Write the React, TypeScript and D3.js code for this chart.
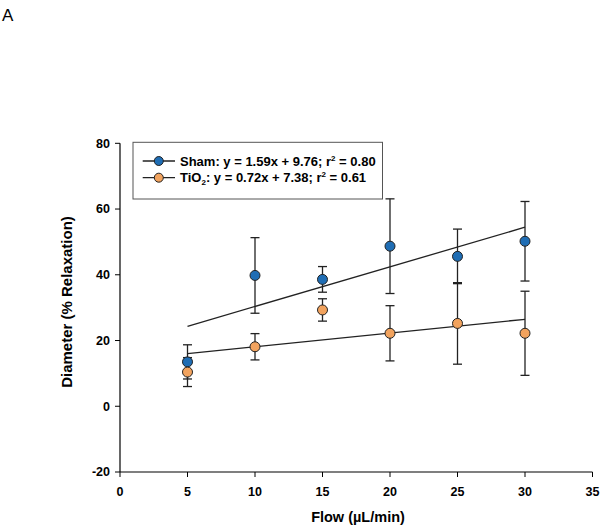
import React from "react";
import * as d3 from "d3";

const flows = [5, 10, 15, 20, 25, 30];
const shamMean = [13.5, 39.8, 38.6, 48.7, 45.6, 50.2];
const shamErr = [5.2, 11.5, 3.9, 14.4, 8.3, 12.1];
const tioMean = [10.4, 18.1, 29.3, 22.2, 25.2, 22.2];
const tioErr = [4.4, 4.0, 3.4, 8.4, 12.4, 12.8];
const xTicks = [0, 5, 10, 15, 20, 25, 30, 35];
const yTicks = [-20, 0, 20, 40, 60, 80];

const BLUE = "#1f6db4";
const ORANGE = "#f2a35e";

function fit(xs: number[], ys: number[]) {
  const mx = d3.mean(xs)!;
  const my = d3.mean(ys)!;
  let sxy = 0, sxx = 0;
  xs.forEach((x, i) => { sxy += (x - mx) * (ys[i] - my); sxx += (x - mx) * (x - mx); });
  const b = sxy / sxx;
  return (x: number) => my + b * (x - mx);
}

export default function App() {
  const x = d3.scaleLinear().domain([0, 35]).range([120, 592.5]);
  const y = d3.scaleLinear().domain([-20, 80]).range([472, 143.3]);
  const font = "'Liberation Sans', Arial, sans-serif";
  const series = [
    { mean: shamMean, err: shamErr, color: BLUE },
    { mean: tioMean, err: tioErr, color: ORANGE },
  ];
  return (
    <svg width={601} height={531} style={{ position: "absolute", left: 0, top: 0, background: "#fff" }} fontFamily={font}>
      <rect width={601} height={531} fill="#fff" />
      <text x={2} y={21} fontSize={17} fill="#000">A</text>
      {/* axes */}
      <line x1={x(0)} x2={x(0)} y1={y(-20)} y2={y(80)} stroke="#000" strokeWidth={1.2} />
      <line x1={x(0)} x2={x(35)} y1={y(-20)} y2={y(-20)} stroke="#000" strokeWidth={1.2} />
      {yTicks.map((t) => (
        <g key={"y" + t}>
          <line x1={x(0) - 5} x2={x(0)} y1={y(t)} y2={y(t)} stroke="#000" />
          <text x={110} y={y(t)} dy="0.35em" textAnchor="end" fontSize={12.5} fontWeight="bold">{t}</text>
        </g>
      ))}
      {xTicks.map((t) => (
        <g key={"x" + t}>
          <line x1={x(t)} x2={x(t)} y1={y(-20)} y2={y(-20) + 5} stroke="#000" />
          <text x={x(t)} y={492} dy="0.35em" textAnchor="middle" fontSize={12.5} fontWeight="bold">{t}</text>
        </g>
      ))}
      <text x={358} y={517} dy="0.35em" textAnchor="middle" fontSize={14.5} fontWeight="bold">Flow (µL/min)</text>
      <text transform="translate(67,302) rotate(-90)" dy="0.35em" textAnchor="middle" fontSize={15} fontWeight="bold">Diameter (% Relaxation)</text>
      {/* regression lines */}
      {series.map((s, i) => {
        const f = fit(flows, s.mean);
        return <line key={"r" + i} x1={x(5)} x2={x(30)} y1={y(f(5))} y2={y(f(30))} stroke="#222" strokeWidth={1.3} />;
      })}
      {/* error bars */}
      {series.map((s, i) => (
        <g key={"e" + i} stroke="#222" strokeWidth={1.3}>
          {flows.map((f, j) => (
            <g key={j}>
              <line x1={x(f)} x2={x(f)} y1={y(s.mean[j] - s.err[j])} y2={y(s.mean[j] + s.err[j])} />
              <line x1={x(f) - 4.5} x2={x(f) + 4.5} y1={y(s.mean[j] - s.err[j])} y2={y(s.mean[j] - s.err[j])} />
              <line x1={x(f) - 4.5} x2={x(f) + 4.5} y1={y(s.mean[j] + s.err[j])} y2={y(s.mean[j] + s.err[j])} />
            </g>
          ))}
        </g>
      ))}
      {series.map((s, i) => (
        <g key={"p" + i}>
          {flows.map((f, j) => (
            <circle key={j} cx={x(f)} cy={y(s.mean[j])} r={5} fill={s.color} stroke="#222" strokeWidth={1} />
          ))}
        </g>
      ))}
      {/* legend */}
      <rect x={133} y={142.3} width={249.5} height={56.7} fill="#fff" stroke="#555" strokeWidth={1} />
      {[
        { color: BLUE, y: 161, label: "sham" },
        { color: ORANGE, y: 177.7, label: "tio" },
      ].map((l) => (
        <g key={l.label}>
          <line x1={142.7} x2={175} y1={l.y} y2={l.y} stroke="#222" strokeWidth={1.3} />
          <circle cx={158.8} cy={l.y} r={4.5} fill={l.color} stroke="#222" strokeWidth={1} />
          {l.label === "sham" ? (
            <text x={180} y={l.y} dy="0.35em" fontSize={13} fontWeight="bold">
              Sham: y = 1.59x + 9.76; r<tspan dy={-5} fontSize={8}>2</tspan><tspan dy={5}> = 0.80</tspan>
            </text>
          ) : (
            <text x={180} y={l.y} dy="0.35em" fontSize={13} fontWeight="bold">
              TiO<tspan dy={3} fontSize={8}>2</tspan><tspan dy={-3}>: y = 0.72x + 7.38; r</tspan><tspan dy={-5} fontSize={8}>2</tspan><tspan dy={5}> = 0.61</tspan>
            </text>
          )}
        </g>
      ))}
    </svg>
  );
}
